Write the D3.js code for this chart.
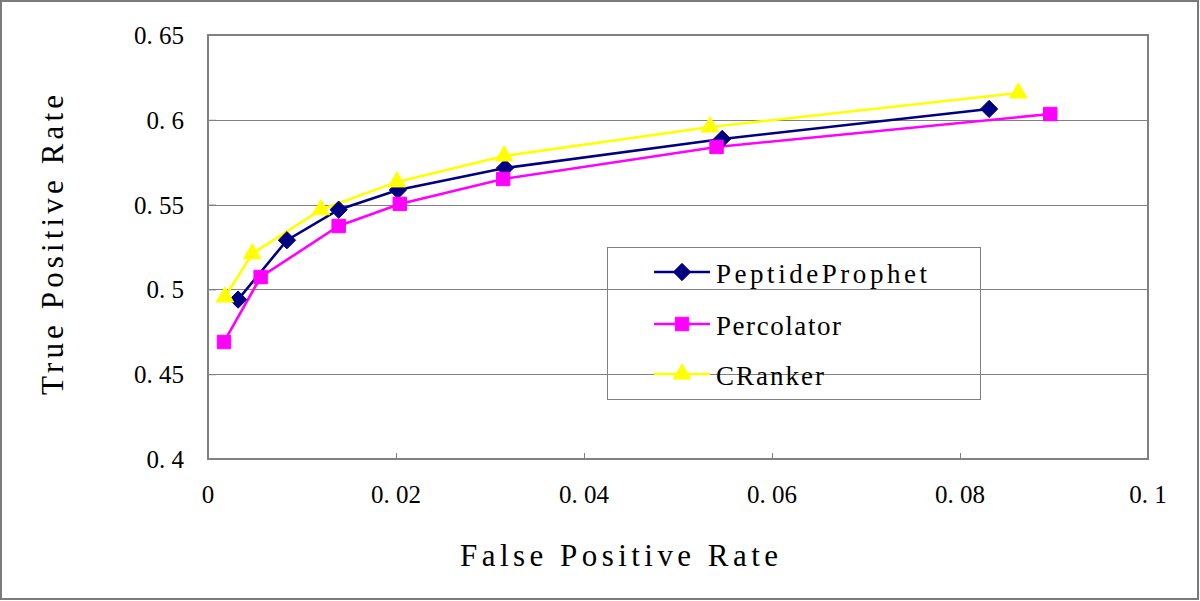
<!DOCTYPE html>
<html><head><meta charset="utf-8"><script src="https://cdn.jsdelivr.net/npm/d3@7"></script></head>
<body style="margin:0">
<svg id="chart" width="1200" height="601"></svg>
<script>
// ---- data ----
const seriesNames = ["PeptideProphet", "Percolator", "CRanker"];
const peptideProphetFpr = [0.0032, 0.0084, 0.0139, 0.0202, 0.0316, 0.0547, 0.0831];
const peptideProphetTpr = [0.494, 0.529, 0.547, 0.5586, 0.5716, 0.5887, 0.6064];
const percolatorFpr = [0.0017, 0.0056, 0.0139, 0.0204, 0.0314, 0.0541, 0.0896];
const percolatorTpr = [0.469, 0.5073, 0.5374, 0.5504, 0.5651, 0.5840, 0.6034];
const crankerFpr = [0.0018, 0.0047, 0.0120, 0.0201, 0.0315, 0.0534, 0.0862];
const crankerTpr = [0.4955, 0.521, 0.547, 0.5634, 0.5787, 0.5958, 0.6158];
const xTickValues = [0, 0.02, 0.04, 0.06, 0.08, 0.1];
const xTickLabels = ["0", "0. 02", "0. 04", "0. 06", "0. 08", "0. 1"];
const yTickValues = [0.4, 0.45, 0.5, 0.55, 0.6, 0.65];
const yTickLabels = ["0. 4", "0. 45", "0. 5", "0. 55", "0. 6", "0. 65"];
const xTitle = "False Positive Rate";
const yTitle = "True Positive Rate";

const series = [
  { name: seriesNames[0], x: peptideProphetFpr, y: peptideProphetTpr, color: "#000080", symbol: d3.symbolDiamond2, size: 190 },
  { name: seriesNames[1], x: percolatorFpr, y: percolatorTpr, color: "#FF00FF", symbol: d3.symbolSquare2, size: 230 },
  { name: seriesNames[2], x: crankerFpr, y: crankerTpr, color: "#FFFF00", symbol: d3.symbolTriangle2, size: 220 }
];

const svg = d3.select("#chart");

function addText(parent, px) {
  return parent.append("text")
    .style("font-family", "Liberation Serif", "important")
    .style("font-size", px + "px", "important")
    .style("fill", "#000");
}

// outer frame
svg.append("rect").attr("x", 1).attr("y", 1).attr("width", 1197).attr("height", 598)
  .attr("fill", "#fff").attr("stroke", "#7a7a7a").attr("stroke-width", 2);

const plot = { left: 208, right: 1148, top: 35, bottom: 459 };
const x = d3.scaleLinear().domain([0, 0.1]).range([plot.left, plot.right]);
const y = d3.scaleLinear().domain([0.4, 0.65]).range([plot.bottom, plot.top]);

// gridlines
svg.append("g").selectAll("line").data(yTickValues.slice(1, -1)).join("line")
  .attr("x1", plot.left).attr("x2", plot.right)
  .attr("y1", d => Math.round(y(d)) + 0.5).attr("y2", d => Math.round(y(d)) + 0.5)
  .attr("stroke", "#808080").attr("stroke-width", 1);

// axes: tick marks from d3 axes (inward), labels drawn from the same scales
const gx = svg.append("g").attr("transform", `translate(0,${plot.bottom})`)
  .call(d3.axisBottom(x).tickValues(xTickValues).tickSize(-6).tickFormat(""));
gx.select(".domain").remove();
gx.selectAll(".tick line").attr("stroke", "#808080");
gx.selectAll(".tick text").remove();
xTickValues.forEach((v, i) => {
  addText(svg, 25).attr("x", x(v)).attr("y", 503).attr("text-anchor", "middle").text(xTickLabels[i]);
});

const gy = svg.append("g").attr("transform", `translate(${plot.left},0)`)
  .call(d3.axisLeft(y).tickValues(yTickValues).tickSize(-8).tickFormat(""));
gy.select(".domain").remove();
gy.selectAll(".tick line").attr("stroke", "#808080");
gy.selectAll(".tick text").remove();
yTickValues.forEach((v, i) => {
  addText(svg, 25).attr("x", plot.left - 24).attr("y", y(v) + 9).attr("text-anchor", "end").text(yTickLabels[i]);
});

// plot frame
svg.append("rect").attr("x", plot.left).attr("y", plot.top)
  .attr("width", plot.right - plot.left).attr("height", plot.bottom - plot.top)
  .attr("fill", "none").attr("stroke", "#808080").attr("stroke-width", 2);

// lines
const line = d3.line().x(d => x(d[0])).y(d => y(d[1]));
series.forEach(s => {
  const pts = s.x.map((v, i) => [v, s.y[i]]);
  svg.append("path").datum(pts).attr("d", line)
    .attr("fill", "none").attr("stroke", s.color).attr("stroke-width", 2.6);
});
// markers
series.forEach(s => {
  const pts = s.x.map((v, i) => [v, s.y[i]]);
  svg.append("g").selectAll("path").data(pts).join("path")
    .attr("transform", d => `translate(${x(d[0])},${y(d[1])})`)
    .attr("d", d3.symbol().type(s.symbol).size(s.size))
    .attr("fill", s.color).attr("stroke", s.color).attr("stroke-width", 1);
});

// legend (transparent box)
svg.append("rect").attr("x", 607.5).attr("y", 247.5).attr("width", 373).attr("height", 152)
  .attr("fill", "none").attr("stroke", "#808080").attr("stroke-width", 1);
const legendRows = [272, 324, 374];
const legendTextLen = [211, 125, 108];
series.forEach((s, i) => {
  const ly = legendRows[i];
  svg.append("line").attr("x1", 654).attr("x2", 710).attr("y1", ly).attr("y2", ly)
    .attr("stroke", s.color).attr("stroke-width", 2.6);
  svg.append("path").attr("transform", `translate(682,${ly})`)
    .attr("d", d3.symbol().type(s.symbol).size(s.size))
    .attr("fill", s.color).attr("stroke", s.color).attr("stroke-width", 1);
  addText(svg, 27).attr("x", 716).attr("y", ly + 11)
    .attr("textLength", legendTextLen[i]).attr("lengthAdjust", "spacing")
    .text(s.name);
});

// axis titles
addText(svg, 31).attr("x", 619).attr("y", 566).attr("text-anchor", "middle")
  .attr("textLength", 318).attr("lengthAdjust", "spacing")
  .text(xTitle);
addText(svg, 31).attr("transform", "translate(63,245) rotate(-90)").attr("text-anchor", "middle")
  .attr("textLength", 300).attr("lengthAdjust", "spacing")
  .text(yTitle);
</script>
</body></html>
